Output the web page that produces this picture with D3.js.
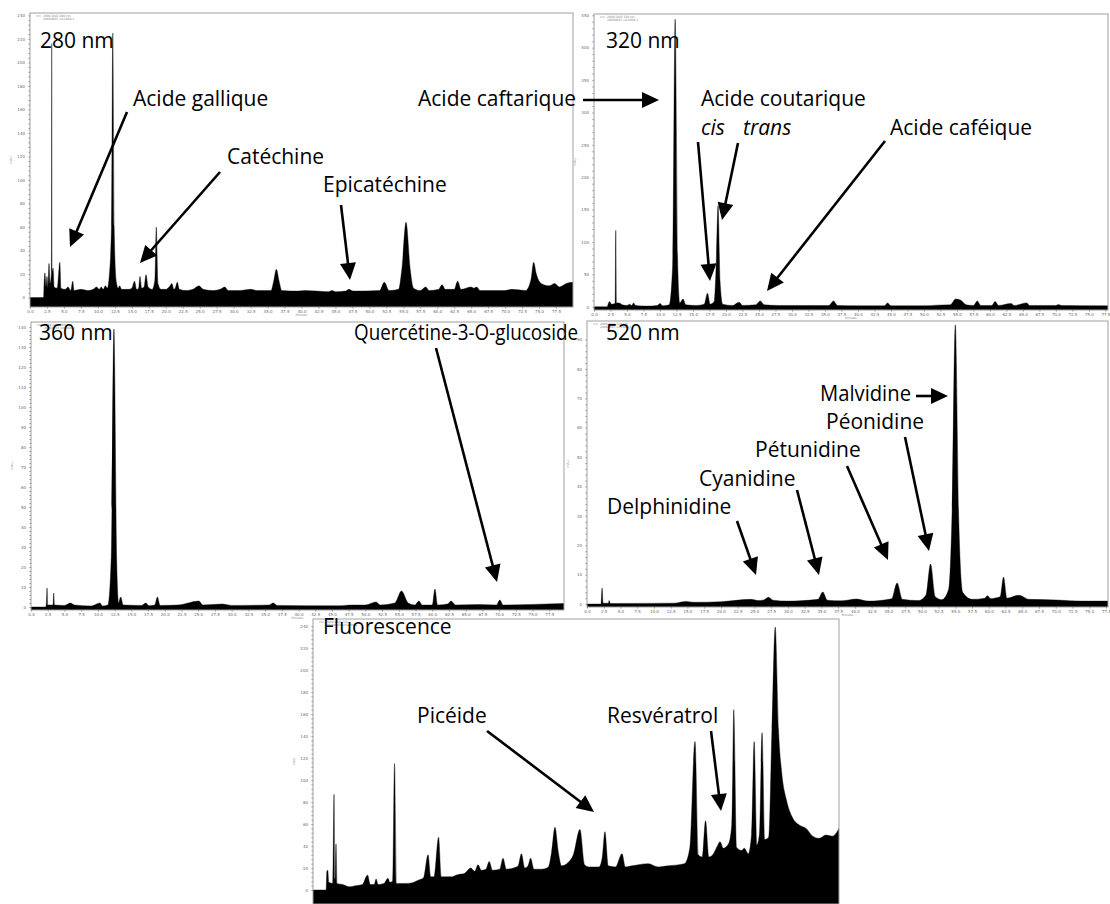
<!DOCTYPE html>
<html>
<head>
<meta charset="utf-8">
<script src="https://cdn.jsdelivr.net/npm/d3@7"></script>
<style>
  body { margin: 0; background: #fff; }
  svg { display: block; }
  .lbl { font-family: "Open Sans", sans-serif; font-size: 21px; fill: #000; }
  .tick text { font-family: "DejaVu Sans", sans-serif; font-size: 4px; fill: #666; }
  .tick line { stroke: #888; }
  .tiny { font-family: "DejaVu Sans", sans-serif; font-size: 3px; fill: #888; }
</style>
</head>
<body>
<svg id="fig" width="1110" height="904"></svg>
<script>
// retention time (min) and absorbance
var t280 = [0,2.0,2.05,2.2,2.35,2.5,2.65,2.8,2.95,3.15,3.2,3.25,3.4,3.55,4.0,4.4,4.55,5.2,5.6,6.0,6.3,6.5,7.5,8.5,9.3,9.8,10.2,10.5,10.8,11.1,11.4,11.7,12.0,12.2,12.4,12.7,13.0,13.2,13.5,14.5,15.0,15.4,15.7,16.0,16.2,16.45,16.8,17.1,17.4,18.0,18.4,18.6,18.85,19.3,20.0,20.5,20.9,21.2,21.4,21.7,22.0,23.0,24.0,24.9,25.5,27.0,28.0,28.7,29.2,31,32.5,33.5,35.5,35.9,36.3,36.7,37.1,39.5,40.5,44.0,44.5,45.0,46.5,47.0,47.6,51.5,52.2,52.9,54.3,54.8,55.4,56.0,56.5,57.5,58.3,58.8,60.2,60.7,61.2,62.5,63.0,63.5,65.0,65.4,65.8,66.3,70.0,71.0,73.0,73.8,74.2,74.6,75.3,76.5,77.3,78,79,80];
var a280 = [0,0,8,21,9,18,8,29,12,20,216,22,25,9,8,30,8,7,9,6,14,6,7,6,7,9,7,9,7,10,8,20,60,225,60,14,8,10,7,7,8,14,7,8,18,8,9,19.5,9,7,15,60,12,7,7,9,12,7,8,13,7,6,7,10,7,6,7,9,6,6,7,6,6,14,24,14,6,5.5,6,5,6,5,5.5,7,5.5,6,13,6,7,25,64,25,8,6,9,6,7,11,7,7,14,7,9,8,9,6,6,7,6,15,30,20,12,10,12,9,12,13];

var t320 = [0,2.0,2.2,2.4,2.6,3.2,3.3,3.4,3.8,4.3,5.0,5.4,5.7,6.0,6.3,8.0,9.6,10.0,10.4,11.4,11.9,12.3,12.7,13.0,13.5,13.9,15.5,16.7,17.2,17.6,18.2,18.5,18.8,19.1,19.5,21.0,22.0,22.5,24.5,25.2,25.8,28,30,33,35.6,36.3,36.9,40,44.0,44.5,45.0,50,52,54.0,54.8,55.6,56.4,57.5,58.1,58.6,60.3,60.8,61.3,63.2,63.7,65.6,66.0,70.0,70.4,70.8,78.2];
var a320 = [0,0,6,8,4,5,118,6,6,3,2,4,2,6,2,1,2,5,1.5,3,60,444,60,6,12,3,2,4,21,4,8,60,156,40,4,2,7,2,3,9,3,2,2,2,2,9,2,1.5,1.5,6,1.5,1.5,2.5,3,12,10,3,2,9,2,2,8,2,5,2,6,2,2,3.5,2,1.5];

var t360 = [0,2.2,2.3,2.4,2.5,3.3,3.4,3.5,5.0,5.9,6.5,9.0,10.3,10.7,11.5,12.0,12.4,12.8,13.1,13.4,13.8,16.5,17.2,17.6,18.5,18.9,19.3,22,25.1,25.7,28.6,30,35.6,36.2,36.8,46,48,50,51.6,52.2,54.4,55.4,56.4,57.4,58,58.5,60.0,60.4,60.8,62.3,62.8,63.5,67,69.6,70.1,70.6,75,79.7];
var a360 = [0,0,2,9.5,1,1,7,1,0.8,2,1,0.5,2,0.5,1,25,139,25,2,5,1,0.8,2,0.6,1,5,0.8,1,3,1,1.5,0.8,1,2,0.8,0.6,1,1,2.5,1,2,8,2,1,3,1,1,9,1,1.5,3,1,1.2,1,3.5,1,1.3,1.8];

var t520 = [0,2.1,2.25,2.4,3.2,3.3,3.5,13,14.8,16,20,24.5,25.5,26.4,27.1,27.8,30,34.5,35.2,35.9,38,40.2,42,45.5,46.3,47.1,49.5,50.6,51.3,52.0,53,54.0,54.5,55.0,55.5,56.1,57.5,59.4,59.8,60.3,61,61.7,62.2,62.7,64.5,66,70,74,78.1];
var a520 = [0,0,5.5,0.3,0.3,1.2,0.2,0.3,0.9,0.6,0.8,1.6,1.2,1.4,2.3,1.3,1.0,1.6,4.1,1.3,1.1,1.7,1.0,1.8,7.2,1.6,1.2,3,13.6,2.5,1.5,5,30,95,30,4,1.6,2,2.8,1.8,2.1,2.5,9.2,2,3,1.6,1.4,1.0,1.0];

var tFluo = [0,2.0,2.1,2.25,2.4,3.0,3.2,3.35,3.5,3.65,4.5,5.5,6.5,7.5,8.3,8.7,9.3,9.6,9.9,10.8,11.4,11.7,12.1,12.4,12.7,14.0,15.0,16.0,16.8,17.5,17.9,18.4,19.1,19.5,21,22,23,24,24.6,25.1,25.6,26.3,26.8,27.3,28.4,28.9,29.4,30.5,31.2,31.7,32.2,32.7,33.1,33.6,34.8,35.8,36.3,36.8,37.3,37.8,38.8,39.6,40.6,41.3,42,43.5,44.0,44.4,44.9,46.0,47.0,47.5,48.5,51,52.5,54,56.5,57.3,58.1,58.6,59.2,59.7,60.2,60.8,61.5,61.9,62.4,63.2,63.7,64.0,64.4,65.2,65.6,66.2,66.7,67.1,67.5,67.9,68.3,68.7,69.3,69.8,70.3,70.8,71.3,72.0,73.0,74.0,75,76,77,78,79,80];
var aFluo = [0,0,17,18,7,6,87,10,42,6,5,3,4,5,13.6,5,5,10,5,6,10.6,7,8,115,6,6,6.5,9,11,32,12,12,48,12,12,14,15,20,17,23,18,19,26,18,19,29,19,20,22,33,20,22,29,19,19,21,35,57,35,22,25,32,55,23,21,21,30,53,22,21,33,21,22,24,21,22,24,38,135,32,30,63,30,32,40,44,38,42,60,164,39,36,38,33,51,135,41,51,143,46,48,146,239,146,106,82,65,59,56,49,47,50,49,56];

// axis ticks
var minuteTicks = d3.range(0, 78, 2.5);
var ticks280 = [0,20,40,60,80,100,120,140,160,180,200,220,240];
var ticks320 = [0,50,100,150,200,250,300,350,400,450];
var ticks360 = [0,10,20,30,40,50,60,70,80,90,100,110,120,130,140];
var ticks520 = [0,10,20,30,40,50,60,70,80,90];
var ticksFluo = [0,20,40,60,80,100,120,140,160,180,200,220,240];

// titles and peak names
var titles = ["280 nm", "320 nm", "360 nm", "520 nm", "Fluorescence"];
var names280 = ["Acide gallique", "Catéchine", "Epicatéchine"];
var names320 = ["Acide caftarique", "Acide coutarique", "cis", "trans", "Acide caféique"];
var names360 = ["Quercétine-3-O-glucoside"];
var names520 = ["Malvidine", "Péonidine", "Pétunidine", "Cyanidine", "Delphinidine"];
var namesFluo = ["Picéide", "Resvératrol"];

var svg = d3.select("#fig");

var panels = [
  { id: 1, title: titles[0], times: t280, values: a280, yTicks: ticks280, step: 20,
    left: 30, right: 573, top: 13, bottom: 307, xDomain: [0, 80], yDomain: [-8, 242], xAxis: true },
  { id: 2, title: titles[1], times: t320, values: a320, yTicks: ticks320, step: 50,
    left: 594, right: 1108, top: 14, bottom: 310, xDomain: [0, 77.9], yDomain: [-5, 452], xAxis: true },
  { id: 3, title: titles[2], times: t360, values: a360, yTicks: ticks360, step: 10,
    left: 31, right: 564, top: 322, bottom: 610, xDomain: [0, 79.7], yDomain: [-1.5, 142.5], xAxis: true },
  { id: 4, title: titles[3], times: t520, values: a520, yTicks: ticks520, step: 10,
    left: 587, right: 1108, top: 321, bottom: 607, xDomain: [0, 77.8], yDomain: [-1, 96.3], xAxis: true },
  { id: 5, title: titles[4], times: tFluo, values: aFluo, yTicks: ticksFluo, step: 20,
    left: 313, right: 839, top: 619, bottom: 904, xDomain: [0, 80], yDomain: [-12.7, 246.4], xAxis: false }
];

var defs = svg.append("defs");

panels.forEach(function (p) {
  var x = d3.scaleLinear().domain(p.xDomain).range([p.left, p.right]);
  var y = d3.scaleLinear().domain(p.yDomain).range([p.bottom, p.top]);
  var g = svg.append("g").attr("class", "panel" + p.id);

  defs.append("clipPath").attr("id", "clip" + p.id)
    .append("rect")
    .attr("x", p.left).attr("y", p.top)
    .attr("width", p.right - p.left).attr("height", p.bottom - p.top);

  var pts = p.times.map(function (t, i) { return [t, p.values[i]]; });
  var area = d3.area()
    .x(function (d) { return x(d[0]); })
    .y0(p.bottom)
    .y1(function (d) { return y(d[1]); })
    .curve(d3.curveMonotoneX);

  g.append("path")
    .datum(pts)
    .attr("d", area)
    .attr("fill", "#000")
    .attr("stroke", "#000")
    .attr("stroke-width", 0.4)
    .attr("clip-path", "url(#clip" + p.id + ")");

  // minor ticks on y axis
  var minor = d3.range(p.yTicks[0], p.yTicks[p.yTicks.length - 1] + 0.001, p.step / 5);
  g.append("g")
    .attr("transform", "translate(" + p.left + ",0)")
    .call(d3.axisLeft(y).tickValues(minor).tickSize(1.5).tickFormat(""))
    .call(function (s) { s.select(".domain").remove(); });

  g.append("g")
    .attr("transform", "translate(" + (p.left - 3) + ",0)")
    .call(d3.axisLeft(y).tickValues(p.yTicks).tickSize(0).tickPadding(2).tickFormat(d3.format("d")))
    .call(function (s) { s.select(".domain").remove(); });

  if (p.xAxis) {
    g.append("g")
      .attr("transform", "translate(0," + p.bottom + ")")
      .call(d3.axisBottom(x).tickValues(minuteTicks).tickSize(1.5).tickPadding(1.5).tickFormat(d3.format(".1f")))
      .call(function (s) { s.select(".domain").remove(); });
    g.append("text").attr("class", "tiny")
      .attr("x", (p.left + p.right) / 2).attr("y", p.bottom + 9)
      .attr("text-anchor", "middle").text("Minutes");
  }

  // y label
  var ym = (p.top + p.bottom) / 2;
  g.append("text").attr("class", "tiny")
    .attr("transform", "translate(" + (p.left - 18) + "," + ym + ") rotate(-90)")
    .attr("text-anchor", "middle").text("mAU");

  // little legend in the corner
  g.append("line")
    .attr("x1", p.left + 6).attr("x2", p.left + 11)
    .attr("y1", p.top + 3).attr("y2", p.top + 3)
    .attr("stroke", "#999").attr("stroke-width", 0.6);
  g.append("text").attr("class", "tiny")
    .attr("x", p.left + 13).attr("y", p.top + 4).text("2008 DAD " + (p.id === 5 ? "FLD" : p.title));
  g.append("text").attr("class", "tiny")
    .attr("x", p.left + 13).attr("y", p.top + 7).text("20080603 vin2008-1");

  // frame
  g.append("rect")
    .attr("x", p.left).attr("y", p.top)
    .attr("width", p.right - p.left).attr("height", p.bottom - p.top)
    .attr("fill", "none").attr("stroke", "#a0a0a0").attr("stroke-width", 1);
});

// text labels
function label(txt, x, y, italic, fitWidth) {
  var t = svg.append("text").attr("class", "lbl")
    .attr("x", x).attr("y", y)
    .style("font-style", italic ? "italic" : null)
    .text(txt);
  if (fitWidth) t.attr("textLength", fitWidth).attr("lengthAdjust", "spacingAndGlyphs");
}

label(titles[0], 40, 48);
label(titles[1], 606, 48);
label(titles[2], 39, 340);
label(titles[3], 606, 340);
label(titles[4], 323, 634);

label(names280[0], 133, 106);
label(names280[1], 227, 164);
label(names280[2], 323, 192);

label(names320[0], 418, 106);
label(names320[1], 701, 106);
label(names320[2], 701, 135, true);
label(names320[3], 743, 135, true);
label(names320[4], 890, 135);

label(names360[0], 354, 340, false, 224);

label(names520[0], 820, 401, false, 91);
label(names520[1], 826, 429);
label(names520[2], 755, 457);
label(names520[3], 699, 486);
label(names520[4], 607, 514);

label(namesFluo[0], 417, 723);
label(namesFluo[1], 607, 723);

// arrows
function arrow(x1, y1, x2, y2) {
  var dx = x2 - x1, dy = y2 - y1;
  var len = Math.sqrt(dx * dx + dy * dy);
  var ux = dx / len, uy = dy / len;
  var hl = 17, hw = 8;
  var bx = x2 - ux * hl, by = y2 - uy * hl;
  svg.append("line")
    .attr("x1", x1).attr("y1", y1).attr("x2", bx + ux * 2).attr("y2", by + uy * 2)
    .attr("stroke", "#000").attr("stroke-width", 2.6);
  svg.append("path")
    .attr("d", "M" + x2 + "," + y2 +
      "L" + (bx - uy * hw) + "," + (by + ux * hw) +
      "L" + (bx + uy * hw) + "," + (by - ux * hw) + "Z")
    .attr("fill", "#000");
}

arrow(127, 112, 70, 247);
arrow(220, 172, 140, 263);
arrow(341, 205, 350, 280);

arrow(583, 100, 659, 100);
arrow(698, 142, 710, 281);
arrow(738, 143, 722, 220);
arrow(885, 141, 767, 291);

arrow(436, 348, 497, 582);

arrow(916, 396, 948, 396);
arrow(905, 437, 929, 551);
arrow(847, 466, 888, 560);
arrow(797, 490, 819, 575);
arrow(737, 521, 756, 575);

arrow(487, 731, 594, 812);
arrow(711, 731, 721, 811);
</script>
</body>
</html>
